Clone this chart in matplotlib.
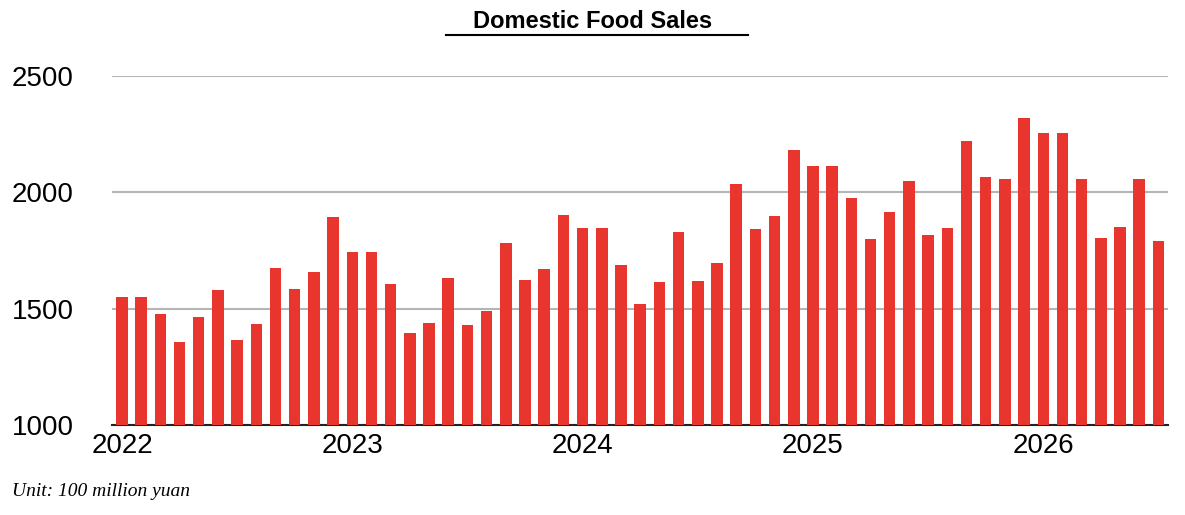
import matplotlib
matplotlib.use('Agg')
import matplotlib.pyplot as plt
import numpy as np

# monthly sales, Jan 2022 - Jul 2026 (100 million yuan)
sales = [1550, 1550, 1477, 1357, 1464, 1580, 1365, 1434, 1675, 1585, 1658, 1894,
         1744, 1744, 1606, 1395, 1438, 1632, 1430, 1490, 1782, 1623, 1670, 1903,
         1847, 1847, 1688, 1520, 1615, 1830, 1619, 1696, 2036, 1842, 1898, 2182,
         2113, 2113, 1976, 1800, 1915, 2049, 1817, 1847, 2221, 2066, 2057, 2320,
         2255, 2255, 2057, 1804, 1851, 2057, 1791]
year_labels = ['2022', '2023', '2024', '2025', '2026']
y_ticks = [1000, 1500, 2000, 2500]

plt.rcParams['font.family'] = ['Liberation Sans', 'DejaVu Sans']
fig = plt.figure(figsize=(11.85, 5.15), dpi=100)
ax = fig.add_axes([0.0945, 0.175, 0.8915, 0.677])

x = np.arange(len(sales))
ax.bar(x, np.array(sales) - 1000, bottom=1000, width=0.6, color='#e8352d', zorder=3)

ax.set_ylim(1000, 2500)
ax.set_xlim(-0.52, len(sales) - 0.48)
ax.set_yticks(y_ticks)
ax.set_yticklabels([str(v) for v in y_ticks], fontsize=20)
ax.set_xticks(np.arange(0, len(sales), 12))
ax.set_xticklabels(year_labels, fontsize=20)
ax.tick_params(length=0)
ax.tick_params(axis='x', pad=6)
ax.tick_params(axis='y', pad=72)
for lbl in ax.get_yticklabels():
    lbl.set_horizontalalignment('left')
ax.yaxis.grid(True, color='#b5b5b5', linewidth=1.5, zorder=0)
for s in ['top', 'right', 'left']:
    ax.spines[s].set_visible(False)
ax.spines['bottom'].set_color('#222222')
ax.spines['bottom'].set_linewidth(1.5)

fig.text(0.5, 0.958, 'Domestic Food Sales', ha='center', va='center',
         fontsize=17, fontweight='bold')
fig.add_artist(plt.Line2D([0.376, 0.631], [0.932, 0.932], color='black', linewidth=1.5))
fig.text(0.01, 0.045, 'Unit: 100 million yuan', ha='left', va='center',
         fontsize=14, style='italic', family='Liberation Serif')

plt.savefig('out.png')
